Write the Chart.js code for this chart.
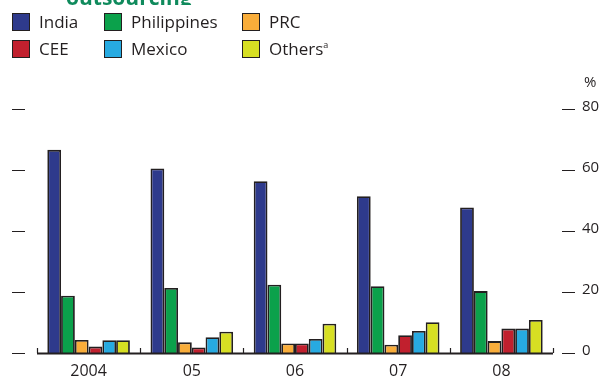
<!DOCTYPE html>
<html>
<head>
<meta charset="utf-8">
<script src="https://cdn.jsdelivr.net/npm/chart.js@4/dist/chart.umd.min.js"></script>
<style>
  body { margin: 0; background: #fff; font-family: "Open Sans", sans-serif; }
  #wrap { position: relative; width: 605px; height: 378px; overflow: hidden; }
  #titleClip { position: absolute; left: 0; top: 0; width: 300px; height: 5px; overflow: hidden; }
  #title { position: absolute; left: 66px; top: -15px; font-size: 21px; font-weight: bold; color: #0f8a5c; white-space: nowrap; line-height: 24px; }
  .leg { position: absolute; font-size: 17px; color: #231f20; line-height: 20px; white-space: nowrap; }
  .leg i { position: absolute; left: -27px; top: 1px; width: 16px; height: 16px; border: 1.7px solid #231f20; }
  .leg sup { font-size: 9px; line-height: 0; vertical-align: 7px; }
</style>
</head>
<body>
<div id="wrap">
  <canvas id="chart" width="605" height="378"></canvas>
  <div id="titleClip"><div id="title">outsourcing</div></div>
  <div id="legend"></div>
</div>
<script>
const years = ['2004', '05', '06', '07', '08'];
const seriesNames = ['India', 'Philippines', 'PRC', 'CEE', 'Mexico', 'Others'];
const seriesColors = ['#2e3a8c', '#0ba14b', '#f9ad3a', '#c1202e', '#27aae1', '#d7df23'];
const india = [66.6, 60.5, 56.3, 51.4, 47.7];
const philippines = [18.8, 21.3, 22.4, 21.9, 20.3];
const prc = [4.3, 3.5, 3.1, 2.7, 3.9];
const cee = [2.1, 1.8, 3.1, 5.8, 8.0];
const mexico = [4.2, 5.2, 4.6, 7.2, 8.0];
const others = [4.2, 7.0, 9.6, 10.1, 10.8];
const yTicks = [0, 20, 40, 60, 80];

// legend, 3 columns x 2 rows
const legPos = [[39, 12], [131, 12], [269, 12], [39, 39], [131, 39], [269, 39]];
const legend = document.getElementById('legend');
seriesNames.forEach((name, i) => {
    let d = document.createElement('div');
    d.className = 'leg';
    d.style.left = legPos[i][0] + 'px';
    d.style.top = legPos[i][1] + 'px';
    d.innerHTML = '<i style="background:' + seriesColors[i] + '"></i>' + name + (name == 'Others' ? '<sup>a</sup>' : '');
    legend.appendChild(d);
});

const axesPlugin = {
    id: 'axesPlugin',
    afterDatasetsDraw(chart) {
        const ctx = chart.ctx;
        const x = chart.scales.x, y = chart.scales.y;
        const area = chart.chartArea;
        ctx.save();
        ctx.strokeStyle = '#231f20';
        ctx.fillStyle = '#231f20';
        // baseline
        ctx.lineWidth = 2;
        ctx.beginPath();
        ctx.moveTo(area.left, y.getPixelForValue(0) + 0.5);
        ctx.lineTo(area.right, y.getPixelForValue(0) + 0.5);
        ctx.stroke();
        // category separators
        ctx.lineWidth = 1.2;
        for (let i = 0; i <= years.length; i++) {
            let px = Math.round(area.left + i * (area.right - area.left) / years.length) + 0.5;
            ctx.beginPath();
            ctx.moveTo(px, y.getPixelForValue(0));
            ctx.lineTo(px, y.getPixelForValue(0) - 5);
            ctx.stroke();
        }
        // left & right dashes, right labels
        ctx.font = '15px "Open Sans"';
        yTicks.forEach(v => {
            let py = Math.round(y.getPixelForValue(v)) + 0.5;
            ctx.beginPath();
            ctx.moveTo(12, py); ctx.lineTo(25, py);
            ctx.moveTo(562, py); ctx.lineTo(575, py);
            ctx.stroke();
            ctx.textAlign = 'left';
            ctx.fillText(String(v), 582, py + 1);
        });
        ctx.fillText('%', 584, 87);
        // x labels
        ctx.textAlign = 'center';
        ctx.font = '16px "Open Sans"';
        years.forEach((lab, i) => {
            ctx.fillText(lab, x.getPixelForValue(i), 376);
        });
        ctx.restore();
    }
};

const datasets = [india, philippines, prc, cee, mexico, others].map((data, i) => ({
    label: seriesNames[i],
    data: data,
    backgroundColor: seriesColors[i],
    borderColor: '#231f20',
    borderWidth: 1.8,
    borderSkipped: 'bottom',
    categoryPercentage: 0.8,
    barPercentage: 1.0
}));

new Chart(document.getElementById('chart').getContext('2d'), {
    type: 'bar',
    data: { labels: years, datasets: datasets },
    options: {
        responsive: false,
        animation: false,
        layout: { padding: { left: 37, right: 52, top: 109, bottom: 25 } },
        plugins: { legend: { display: false }, tooltip: { enabled: false } },
        scales: {
            x: { display: false },
            y: { display: false, min: 0, max: 80 }
        }
    },
    plugins: [axesPlugin]
});
</script>
</body>
</html>
